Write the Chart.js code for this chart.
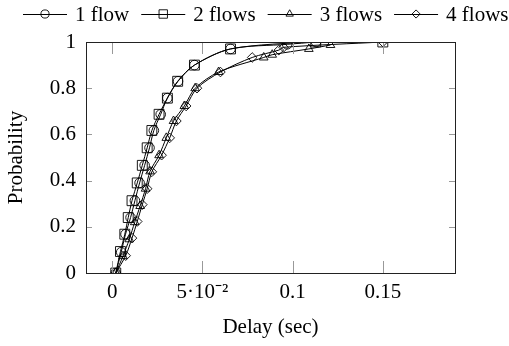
<!DOCTYPE html>
<html>
<head>
<meta charset="utf-8">
<script src="https://cdn.jsdelivr.net/npm/chart.js@4/dist/chart.umd.min.js"></script>
<style>
  html, body { margin: 0; padding: 0; background: #fff; }
</style>
</head>
<body>
<canvas id="myChart" width="509" height="346"></canvas>
<script>
// values
var seriesNames = ['1 flow', '2 flows', '3 flows', '4 flows'];
var seriesMarkers = ['circle', 'rect', 'triangle', 'rectRot'];
var markerRadius = [4.8, 7, 5, 4.8];

var flow1Delay = [0.002, 0.005, 0.0074, 0.0102, 0.0126, 0.0152, 0.018, 0.0207, 0.0231, 0.0269, 0.0306, 0.0365, 0.0456, 0.0656, 0.097, 0.113];
var flow1Prob  = [0, 0.09, 0.168, 0.24, 0.313, 0.39, 0.466, 0.542, 0.617, 0.687, 0.757, 0.83, 0.90, 0.97, 0.99, 1.0];

var flow2Delay = [0.002, 0.0046, 0.007, 0.0089, 0.011, 0.0139, 0.0167, 0.0194, 0.022, 0.026, 0.0306, 0.0363, 0.0456, 0.0656, 0.1128, 0.15];
var flow2Prob  = [0, 0.093, 0.168, 0.24, 0.313, 0.39, 0.466, 0.542, 0.617, 0.687, 0.757, 0.83, 0.90, 0.97, 1.0, 1.0];

var flow3Delay = [0.002, 0.006, 0.0095, 0.0125, 0.0155, 0.0185, 0.021, 0.026, 0.030, 0.034, 0.040, 0.046, 0.059, 0.084, 0.0887, 0.109, 0.121];
var flow3Prob  = [0, 0.073, 0.146, 0.22, 0.29, 0.365, 0.44, 0.51, 0.585, 0.658, 0.723, 0.80, 0.87, 0.933, 0.945, 0.97, 0.987];

var flow4Delay = [0.002, 0.0075, 0.011, 0.0139, 0.0167, 0.0194, 0.022, 0.0274, 0.0319, 0.0356, 0.041, 0.047, 0.06, 0.0776, 0.0924, 0.095, 0.15];
var flow4Prob  = [0, 0.075, 0.151, 0.223, 0.296, 0.365, 0.438, 0.51, 0.585, 0.658, 0.723, 0.80, 0.87, 0.933, 0.965, 0.977, 1.0];

var xTickValues = [0, 0.05, 0.1, 0.15];
var xTickLabels = ['0', '5\u00b710\u207b\u00b2', '0.1', '0.15'];
var yTickValues = [0, 0.2, 0.4, 0.6, 0.8, 1];
var yTickLabels = ['0', '0.2', '0.4', '0.6', '0.8', '1'];

var serif = "'Liberation Serif', 'Times New Roman', serif";

function pairs(xs, ys) {
  return xs.map((x, i) => ({ x: x, y: ys[i] }));
}

var allDelays = [flow1Delay, flow2Delay, flow3Delay, flow4Delay];
var allProbs = [flow1Prob, flow2Prob, flow3Prob, flow4Prob];

var datasets = seriesNames.map(function (name, i) {
  return {
    label: name,
    data: pairs(allDelays[i], allProbs[i]),
    showLine: true,
    tension: 0.3,
    borderColor: '#000',
    borderWidth: 1,
    backgroundColor: 'rgba(0,0,0,0)',
    pointStyle: seriesMarkers[i],
    pointRadius: markerRadius[i],
    pointBorderColor: '#000',
    pointBorderWidth: 0.9,
    pointBackgroundColor: 'rgba(0,0,0,0)'
  };
});

// box around plot and inward tick marks, pgfplots style
var frame = {
  id: 'frame',
  afterDatasetsDraw(chart) {
    var ctx = chart.ctx, a = chart.chartArea;
    var xs = chart.scales.x, ys = chart.scales.y;
    ctx.save();
    ctx.strokeStyle = '#999';
    ctx.lineWidth = 1;
    ctx.beginPath();
    xTickValues.forEach(function (v) {
      var px = Math.round(xs.getPixelForValue(v)) + 0.5;
      ctx.moveTo(px, a.bottom); ctx.lineTo(px, a.bottom - 12);
      ctx.moveTo(px, a.top); ctx.lineTo(px, a.top + 12);
    });
    yTickValues.forEach(function (v) {
      var py = Math.round(ys.getPixelForValue(v)) + 0.5;
      ctx.moveTo(a.left, py); ctx.lineTo(a.left + 6, py);
      ctx.moveTo(a.right, py); ctx.lineTo(a.right - 6, py);
    });
    ctx.stroke();
    ctx.strokeStyle = '#222';
    ctx.strokeRect(Math.round(a.left) + 0.5, Math.round(a.top) + 0.5,
      Math.round(a.right - a.left), Math.round(a.bottom - a.top));
    ctx.restore();
  }
};

// legend row: line with marker, then label
var lineLegend = {
  id: 'lineLegend',
  afterDraw(chart) {
    var ctx = chart.ctx;
    var x = 23, y = 14;
    ctx.save();
    ctx.font = '21px ' + serif;
    ctx.textBaseline = 'middle';
    chart.data.datasets.forEach(function (ds) {
      ctx.strokeStyle = '#000';
      ctx.lineWidth = 1;
      ctx.beginPath();
      ctx.moveTo(x, y + 0.5); ctx.lineTo(x + 44, y + 0.5);
      ctx.stroke();
      ctx.fillStyle = 'rgba(0,0,0,0)';
      ctx.lineWidth = 0.9;
      Chart.helpers.drawPoint(ctx, {
        pointStyle: ds.pointStyle, radius: ds.pointRadius * 0.85, rotation: 0, borderWidth: 0.9
      }, x + 22, y);
      ctx.fillStyle = '#000';
      ctx.fillText(ds.label, x + 52, y + 1);
      x += 52 + ctx.measureText(ds.label).width + 12;
    });
    ctx.restore();
  }
};

var ctx = document.getElementById('myChart').getContext('2d');
var myChart = new Chart(ctx, {
  type: 'scatter',
  data: { datasets: datasets },
  plugins: [frame, lineLegend],
  options: {
    responsive: false,
    animation: false,
    layout: { padding: { top: 42, right: 54, left: 0, bottom: 0 } },
    plugins: {
      legend: { display: false },
      tooltip: { enabled: false }
    },
    scales: {
      x: {
        type: 'linear',
        min: -0.0145,
        max: 0.19,
        afterBuildTicks: function (s) { s.ticks = xTickValues.map(v => ({ value: v })); },
        afterFit: function (s) { s.height = 73; },
        grid: { display: false, drawTicks: false },
        border: { display: false },
        ticks: {
          color: '#000',
          padding: 7,
          maxRotation: 0,
          autoSkip: false,
          font: { family: serif, size: 21 },
          callback: function (v) { return xTickLabels[xTickValues.indexOf(v)]; }
        },
        title: {
          display: true,
          text: 'Delay (sec)',
          color: '#000',
          font: { family: serif, size: 21 },
          padding: { top: 0, bottom: 6 }
        }
      },
      y: {
        min: 0,
        max: 1,
        afterBuildTicks: function (s) { s.ticks = yTickValues.map(v => ({ value: v })); },
        afterFit: function (s) { s.width = 86; },
        grid: { display: false, drawTicks: false },
        border: { display: false },
        ticks: {
          color: '#000',
          padding: 10,
          font: { family: serif, size: 21 },
          callback: function (v) { return yTickLabels[yTickValues.indexOf(v)]; }
        },
        title: {
          display: true,
          text: 'Probability',
          color: '#000',
          font: { family: serif, size: 21 },
          padding: { top: 4, bottom: 0 }
        }
      }
    }
  }
});
</script>
</body>
</html>
